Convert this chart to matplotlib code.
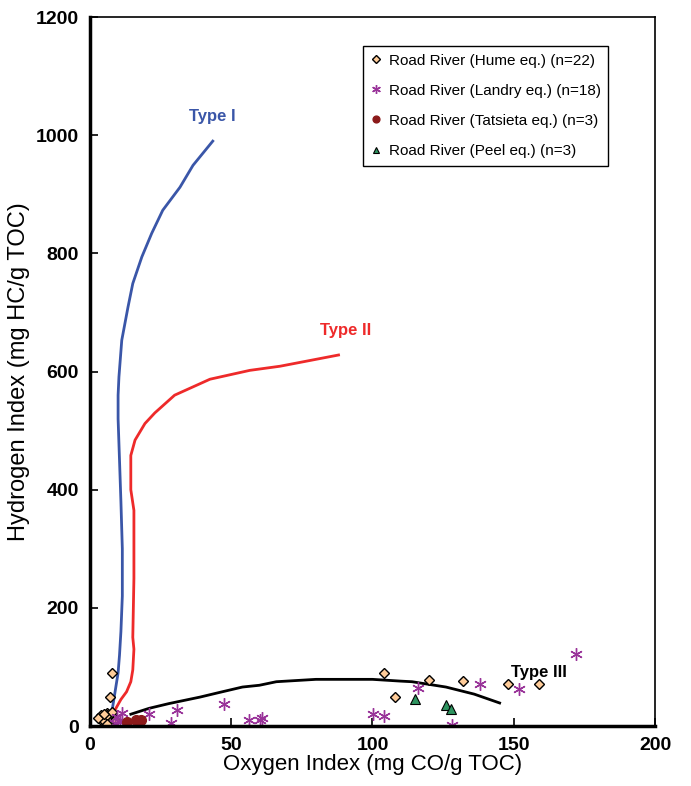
import numpy as np
import matplotlib
matplotlib.use("Agg")
import matplotlib.pyplot as plt

plt.rcParams["font.family"] = ["Liberation Sans", "DejaVu Sans"]

# Rock-Eval samples: oxygen index (OI) and hydrogen index (HI)
hume_oi = [7.8, 7.0, 104, 108, 120, 132, 148, 159,
           4, 5, 6, 7, 4, 8, 7, 5, 3, 6, 9, 6, 8, 5]
hume_hi = [89, 49, 90, 49, 78, 76, 71, 71,
           18, 15, 22, 12, 10, 17, 6, 8, 14, 18, 10, 4, 24, 20]

landry_oi = [47.4, 56.3, 60.2, 60.9, 100.2, 104, 116, 138, 152, 172,
             128, 31, 28.7, 20.9, 11.4, 9.5, 10.6, 8.8]
landry_hi = [37, 10, 10, 13, 20, 17, 64, 71, 62, 122,
             2, 27, 5, 20, 22, 16, 7, 5]

tatsieta_oi = [13.3, 16.5, 18.0]
tatsieta_hi = [6, 10, 11]

peel_oi = [115, 126, 127.8]
peel_hi = [46, 36, 29]

# kerogen type evolution paths
type1_oi = [7, 8, 9, 10, 10.5, 11, 11.5, 11.5, 11, 10.5, 10, 10, 10.3,
            11.3, 13.5, 15.2, 18.4, 21.9, 25.8, 31.9, 36.5, 43.5]
type1_hi = [15, 30, 60, 90, 120, 160, 220, 300, 380, 450, 520, 560, 591,
            653, 709, 749, 794, 834, 873, 912, 949, 990]

type2_oi = [7.5, 9, 11, 13, 14.5, 15.2, 15.6, 15.2, 15.6, 15.6, 14.5,
            14.5, 16, 19.5, 23, 30, 42.5, 56.6, 67.3, 88]
type2_hi = [18, 28, 45, 58, 75, 95, 130, 150, 250, 365, 400,
            458, 484, 512, 530, 560, 587, 602, 609, 628]

type3_oi = [14.5, 21, 28, 39, 46, 54, 60, 66, 80, 100, 110, 114, 126, 136, 145]
type3_hi = [20, 30, 38, 49, 57, 66, 69, 75, 79, 79, 76, 75, 66, 54, 39]

fig = plt.figure(figsize=(6.91, 7.86), dpi=100)
ax = fig.add_axes([0.130, 0.0763, 0.818, 0.902])

ax.plot(type1_oi, type1_hi, color="#3A56A8", lw=2)
ax.plot(type2_oi, type2_hi, color="#EE2A2A", lw=2)
ax.plot(type3_oi, type3_hi, color="black", lw=2)

ax.text(43.5, 1032, "Type I", color="#3A56A8", fontsize=12, fontweight="bold", ha="center", va="center")
ax.text(90.6, 670, "Type II", color="#EE2A2A", fontsize=12, fontweight="bold", ha="center", va="center")
ax.text(159, 91, "Type III", color="black", fontsize=12, fontweight="bold", ha="center", va="center")

ax.plot(hume_oi, hume_hi, ls="none", marker="D", ms=5.5, mfc="#FFCC99", mec="black", mew=1,
        label="Road River (Hume eq.) (n=22)")
ax.plot(landry_oi, landry_hi, ls="none", marker=(6, 2, 0), ms=9, color="#993399", mew=1,
        label="Road River (Landry eq.) (n=18)")
ax.plot(tatsieta_oi, tatsieta_hi, ls="none", marker="o", ms=7, mfc="#8B1A1A", mec="#8B1A1A",
        label="Road River (Tatsieta eq.) (n=3)")
ax.plot(peel_oi, peel_hi, ls="none", marker="^", ms=7, mfc="#2E9460", mec="black", mew=0.8,
        label="Road River (Peel eq.) (n=3)")

ax.set_xlim(0, 200)
ax.set_ylim(0, 1200)
ax.set_xticks([0, 50, 100, 150, 200])
ax.set_yticks([0, 200, 400, 600, 800, 1000, 1200])
ax.tick_params(direction="in", length=6, width=1.2, labelsize=14, pad=8)
for lab in ax.get_xticklabels() + ax.get_yticklabels():
    lab.set_fontweight("bold")

ax.spines["left"].set_linewidth(2.5)
ax.spines["bottom"].set_linewidth(2.5)
ax.spines["top"].set_linewidth(1.2)
ax.spines["right"].set_linewidth(1.2)

ax.set_xlabel("Oxygen Index (mg CO/g TOC)", fontsize=16, labelpad=0)
ax.set_ylabel("Hydrogen Index (mg HC/g TOC)", fontsize=17, labelpad=4)

leg = ax.legend(loc="upper right", bbox_to_anchor=(0.917, 0.959), borderaxespad=0,
                fontsize=11, markerscale=0.7, handlelength=0.8, handletextpad=0.4,
                labelspacing=1.05, borderpad=0.5, fancybox=False, framealpha=1,
                edgecolor="black")
leg.get_frame().set_linewidth(1)

fig.savefig("out.png", dpi=100)
